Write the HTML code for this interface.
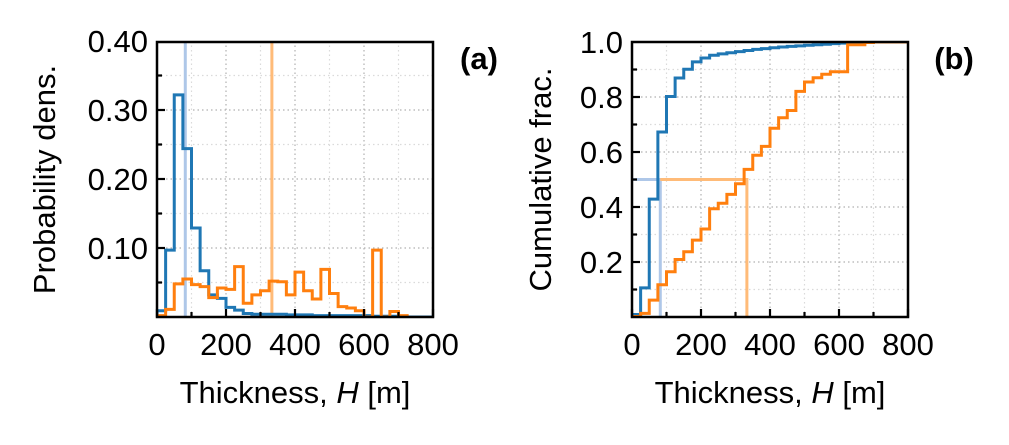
<!DOCTYPE html>
<html><head><meta charset="utf-8"><style>
html,body{margin:0;padding:0;background:#fff;}
svg{display:block;font-family:"Liberation Sans",Arial,sans-serif;}
</style></head><body>
<svg id="fig" width="1009" height="445" viewBox="0 0 1009 445" xmlns="http://www.w3.org/2000/svg"></svg>
<script>
// ---- data ----
const binWidth = 25;
const blueDensity = [0.009,0.097,0.322,0.244,0.129,0.067,0.032,0.027,0.014,0.010,0.005,0.004,0.004,0.004,0.004,0.003,0.003,0.003,0.002,0.002,0.002,0.002,0.002,0.002,0.002,0.001,0.001,0.001,0.001,0.0,0.0,0.0];
const orangeDensity = [0.002,0.011,0.048,0.055,0.047,0.044,0.028,0.042,0.040,0.073,0.020,0.032,0.038,0.052,0.051,0.032,0.065,0.038,0.026,0.069,0.034,0.015,0.013,0.009,0.0,0.097,0.0,0.008,0.002];
const blueMedian = 82;
const orangeMedian = 333;
const xTicks = [0,200,400,600,800];
const xTickLabels = ["0","200","400","600","800"];
const aYTicks = [0.10,0.20,0.30,0.40];
const aYTickLabels = ["0.10","0.20","0.30","0.40"];
const bYTicks = [0.2,0.4,0.6,0.8,1.0];
const bYTickLabels = ["0.2","0.4","0.6","0.8","1.0"];

const NS = "http://www.w3.org/2000/svg";
const svg = document.getElementById('fig');
function el(tag, attrs, parent){
  const e = document.createElementNS(NS, tag);
  for (const k in attrs) e.setAttribute(k, attrs[k]);
  (parent||svg).appendChild(e);
  return e;
}
const BLUE="#1f77b4", ORANGE="#ff7f0e", LBLUE="#aec7e8", LORANGE="#ffbb78";
const LW = 3;
const FS = 31;

function makePanel(p){
  const g = el('g', {});
  
  
  const sx = v => p.x0 + (v/800)*(p.x1-p.x0);
  const sy = v => p.y0 - (v/p.ymax)*(p.y0-p.y1);
  const cid = 'clip-' + p.name;
  const cp = el('clipPath', {id: cid}, g);
  el('rect', {x:p.x0, y:p.y1, width:p.x1-p.x0, height:p.y0-p.y1}, cp);
  const grid = el('g', {}, g);
  
  
  for (let v=100; v<800; v+=100){
    const major = v%200===0;
    el('line', {x1:sx(v), x2:sx(v), y1:p.y0, y2:p.y1, stroke: major?'#b0b0b0':'#dadada', 'stroke-width':1.2, 'stroke-dasharray':'1.5,3'}, grid);
  }
  for (let v=p.ystepMinor; v<p.ymax-1e-9; v+=p.ystepMinor){
    const major = Math.abs(Math.round(v/p.ystepMajor)*p.ystepMajor - v) < 1e-9;
    el('line', {x1:p.x0, x2:p.x1, y1:sy(v), y2:sy(v), stroke: major?'#b0b0b0':'#dadada', 'stroke-width':1.2, 'stroke-dasharray':'1.5,3'}, grid);
  }
  const plot = el('g', {'clip-path':'url(#'+cid+')'}, g);
  p.draw(plot, sx, sy);
  for (let v=0; v<=800; v+=100){
    const len = v%200===0 ? 8 : 5;
    el('line', {x1:sx(v), x2:sx(v), y1:p.y0, y2:p.y0-len, stroke:'#000','stroke-width':2.2}, g);
  }
  for (let v=p.ystepMinor; v<p.ymax-1e-9; v+=p.ystepMinor){
    const major = Math.abs(Math.round(v/p.ystepMajor)*p.ystepMajor - v) < 1e-9;
    el('line', {x1:p.x0, x2:p.x0+(major?8:5), y1:sy(v), y2:sy(v), stroke:'#000','stroke-width':2.2}, g);
  }
  el('rect', {x:p.x0, y:p.y1, width:p.x1-p.x0, height:p.y0-p.y1, fill:'none', stroke:'#000', 'stroke-width':2.5}, g);
  xTicks.forEach((v,i)=>{
    const t = el('text', {x:sx(v), y:p.y0+38, 'font-size':FS, 'text-anchor':'middle'}, g);
    
    
    t.textContent = xTickLabels[i];
  });
  p.yTicks.forEach((v,i)=>{
    const t = el('text', {x:p.x0-9, y:sy(v)+11, 'font-size':FS, 'text-anchor':'end'}, g);
    
    
    t.textContent = p.yLabels[i];
  });
  const xl = el('text', {x:(p.x0+p.x1)/2, y:p.y0+86, 'font-size':FS, 'text-anchor':'middle'}, g);
  
  
  xl.innerHTML = 'Thickness, <tspan font-style="italic">H</tspan> [m]';
  const yl = el('text', {x:0, y:0, 'font-size':FS, 'text-anchor':'middle', transform:'translate('+p.ylx+','+((p.y0+p.y1)/2)+') rotate(-90)'}, g);
  
  
  yl.textContent = p.ylabel;
  const pl = el('text', {x:p.x1+46, y:69, 'font-size':FS, 'font-weight':'bold', 'text-anchor':'middle'}, g);
  
  
  pl.textContent = p.label;
}

function stepPath(vals, sx, sy){
  let d = 'M'+sx(0)+','+sy(0);
  vals.forEach((v,i)=>{ d += ' L'+sx(i*binWidth)+','+sy(v)+' L'+sx((i+1)*binWidth)+','+sy(v); });
  d += ' L'+sx(vals.length*binWidth)+','+sy(0);
  return d;
}
function cumulative(vals){
  const tot = vals.reduce((a,b)=>a+b,0);
  let c=0; return vals.map(v=>{c+=v; return c/tot;});
}
function cdfPath(vals, sx, sy){
  const c = cumulative(vals);
  let d = 'M'+sx(0)+','+sy(0);
  c.forEach((v,i)=>{ d += ' L'+sx(i*binWidth)+','+sy(v)+' L'+sx((i+1)*binWidth)+','+sy(v); });
  d += ' L'+sx(800)+','+sy(1);
  return d;
}

makePanel({name:'panel-a', x0:157, x1:433, y0:317, y1:42, ymax:0.4*(317-42)/(317-41), ystepMinor:0.05, ystepMajor:0.1,
  yTicks:aYTicks, yLabels:aYTickLabels, ylabel:'Probability dens.', ylx:55, label:'(a)',
  draw:(g,sx,sy)=>{
    const m1 = el('line',{x1:sx(blueMedian),x2:sx(blueMedian),y1:sy(0),y2:sy(1),stroke:LBLUE,'stroke-width':LW},g);
    
    
    const m2 = el('line',{x1:sx(orangeMedian),x2:sx(orangeMedian),y1:sy(0),y2:sy(1),stroke:LORANGE,'stroke-width':LW},g);
    
    
    const b = el('path',{d:stepPath(blueDensity,sx,sy),fill:'none',stroke:BLUE,'stroke-width':LW},g);
    
    
    const o = el('path',{d:stepPath(orangeDensity,sx,sy),fill:'none',stroke:ORANGE,'stroke-width':LW},g);
    
    
  }});

makePanel({name:'panel-b', x0:632, x1:908, y0:317, y1:42, ymax:1.0, ystepMinor:0.1, ystepMajor:0.2,
  yTicks:bYTicks, yLabels:bYTickLabels, ylabel:'Cumulative frac.', ylx:551, label:'(b)',
  draw:(g,sx,sy)=>{
    const m1 = el('path',{d:'M'+sx(0)+','+sy(0.5)+' L'+sx(blueMedian)+','+sy(0.5)+' L'+sx(blueMedian)+','+sy(0),fill:'none',stroke:LBLUE,'stroke-width':LW},g);
    
    
    const m2 = el('path',{d:'M'+sx(blueMedian)+','+sy(0.5)+' L'+sx(orangeMedian)+','+sy(0.5)+' L'+sx(orangeMedian)+','+sy(0),fill:'none',stroke:LORANGE,'stroke-width':LW},g);
    
    
    const b = el('path',{d:cdfPath(blueDensity,sx,sy),fill:'none',stroke:BLUE,'stroke-width':LW},g);
    
    
    const o = el('path',{d:cdfPath(orangeDensity,sx,sy),fill:'none',stroke:ORANGE,'stroke-width':LW},g);
    
    
  }});
</script>
</body></html>
